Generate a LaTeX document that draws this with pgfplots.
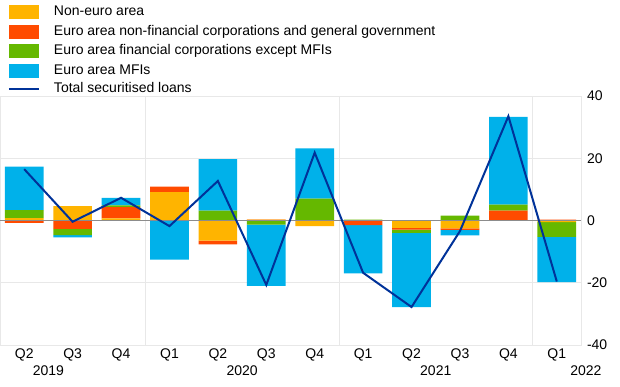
\documentclass[border=0pt]{standalone}
\usepackage{pgfplots}
\usepackage{pgfplotstable}
\pgfplotsset{compat=1.18}
\usepackage{fontspec}
\setmainfont{Liberation Sans}
\definecolor{cYel}{HTML}{FFB400}
\definecolor{cRed}{HTML}{FF4B00}
\definecolor{cGrn}{HTML}{65B800}
\definecolor{cBlu}{HTML}{00B1EA}
\definecolor{cLine}{HTML}{003299}
\definecolor{cGrid}{HTML}{E8E8E8}
\definecolor{cZero}{HTML}{8C8C8C}

% positive contributions (stacked upward from zero)
\pgfplotstableread{
x yel red grn blu
0 0.75 0 2.6 14.0
1 4.6 0 0 0
2 0.65 3.65 0.6 2.4
3 9.1 1.8 0 0
4 0 0 3.2 16.5
5 0.3 0.1 0 0
6 0 0 7.0 16.2
7 0 0 0.3 0
8 0 0 0 0
9 0 0 1.6 0
10 0 3.2 1.9 28.2
11 0 0.3 0 0
}\postab

% negative contributions (stacked downward from zero)
\pgfplotstableread{
x yel red grn blu
0 0 -0.75 0 0
1 0 -2.7 -2.0 -0.7
2 0 0 0 0
3 0 0 0 -12.6
4 -6.45 -1.25 0 0
5 0 0 -1.3 -19.7
6 -1.8 0 0 0
7 0 -1.5 0 -15.5
8 -2.4 -0.5 -1.1 -23.8
9 -2.5 -0.5 0 -1.8
10 0 0 0 0
11 -0.5 0 -4.8 -14.5
}\negtab

% total securitised loans
\pgfplotstableread{
x tot
0 16.5
1 -0.4
2 7.3
3 -1.8
4 12.7
5 -20.7
6 21.8
7 -16.8
8 -27.8
9 -3.4
10 33.5
11 -19.6
}\tottab

\newcommand{\lblfont}{\fontsize{14bp}{16bp}\selectfont}

\pgfplotsset{
  base/.style={
    scale only axis, width=581bp, height=249bp,
    at={(0,0)}, anchor=south west,
    xmin=-0.5, xmax=11.5, ymin=-40, ymax=40,
    clip=false,
  },
  barbase/.style={base, ybar stacked, bar width=0.8},
  boxleg/.style={legend image code/.code={\fill[##1] (0bp,-7bp) rectangle (30bp,7bp);}},
  lineleg/.style={legend image code/.code={\draw[##1] (0bp,0bp) -- (30bp,0bp);}},
}

\begin{document}
\begin{tikzpicture}
\path[use as bounding box] (0bp,-42bp) rectangle (620bp,345bp);

% axis 1: frame, grid, labels and positive contributions
\begin{axis}[barbase,
  axis line style={draw=cGrid, line width=0.8pt},
  xtick={0,...,11},
  xticklabels={Q2,Q3,Q4,Q1,Q2,Q3,Q4,Q1,Q2,Q3,Q4,Q1},
  major tick length=0,
  ytick={-40,-20,0,20,40},
  yticklabels={-40,-20,0,20,40},
  yticklabel pos=right,
  ymajorgrids,
  grid style={draw=cGrid, line width=0.8pt},
  extra x ticks={2.5,6.5,10.5},
  extra x tick labels={},
  extra x tick style={grid=major, major tick length=0},
  tick label style={font=\lblfont},
  xticklabel style={anchor=base, yshift=-13bp},
  yticklabel style={anchor=west, xshift=2.5bp},
]
\addplot[fill=cYel, draw=none] table[x=x, y=yel] {\postab};
\addplot[fill=cRed, draw=none] table[x=x, y=red] {\postab};
\addplot[fill=cGrn, draw=none] table[x=x, y=grn] {\postab};
\addplot[fill=cBlu, draw=none] table[x=x, y=blu] {\postab};
\node[font=\lblfont, anchor=base] at (axis cs:0.5,-40) [yshift=-30bp] {2019};
\node[font=\lblfont, anchor=base] at (axis cs:4.5,-40) [yshift=-30bp] {2020};
\node[font=\lblfont, anchor=base] at (axis cs:8.5,-40) [yshift=-30bp] {2021};
\node[font=\lblfont, anchor=base] at (axis cs:11.6,-40) [yshift=-30bp] {2022};
\end{axis}

% axis 2: negative contributions
\begin{axis}[barbase, hide axis]
\addplot[fill=cYel, draw=none] table[x=x, y=yel] {\negtab};
\addplot[fill=cRed, draw=none] table[x=x, y=red] {\negtab};
\addplot[fill=cGrn, draw=none] table[x=x, y=grn] {\negtab};
\addplot[fill=cBlu, draw=none] table[x=x, y=blu] {\negtab};
\end{axis}

% axis 3: zero line, total line and legend
\begin{axis}[base, hide axis,
  legend style={
    at={(axis description cs:0,1)}, anchor=north west,
    xshift=8bp, yshift=91bp,
    draw=none, fill=none, font=\lblfont,
    inner sep=0pt, outer sep=0pt,
    row sep=5.6bp, column sep=14bp,
    nodes={inner sep=0pt, text height=9.5bp, text depth=2.5bp},
  },
  legend cell align=left,
]
\draw[cZero, line width=0.8pt] (axis cs:-0.5,0) -- (axis cs:11.5,0);
\addlegendimage{fill=cYel, draw=none, boxleg}
\addlegendentry{Non-euro area}
\addlegendimage{fill=cRed, draw=none, boxleg}
\addlegendentry{Euro area non-financial corporations and general government}
\addlegendimage{fill=cGrn, draw=none, boxleg}
\addlegendentry{Euro area financial corporations except MFIs}
\addlegendimage{fill=cBlu, draw=none, boxleg}
\addlegendentry{Euro area MFIs}
\addplot[cLine, line width=2bp, mark=none, lineleg]
  table[x=x, y=tot] {\tottab};
\addlegendentry{Total securitised loans}
\end{axis}
\end{tikzpicture}
\end{document}
